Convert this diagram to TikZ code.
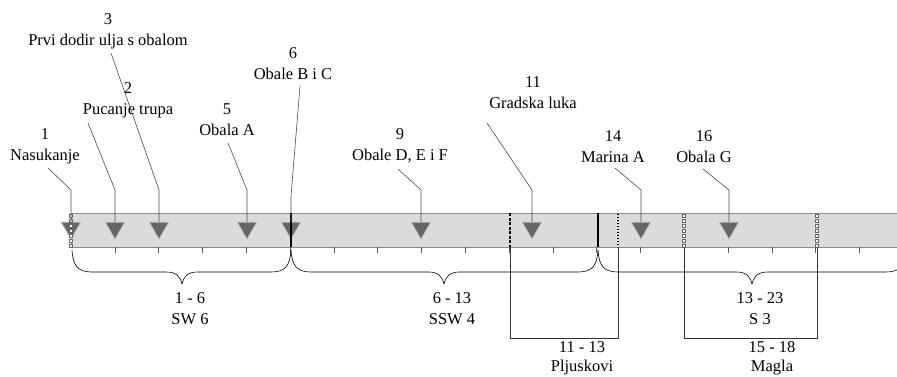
\documentclass[tikz,border=0pt]{standalone}
\usepackage{fontspec}
\setmainfont{Liberation Serif}
\usetikzlibrary{shapes.geometric}
\begin{document}
\begin{tikzpicture}[x=1pt,y=-1pt,
  lab/.style={align=center, inner sep=0pt, font=\fontsize{16.5}{21}\selectfont},
  lowlab/.style={align=center, inner sep=0pt, font=\fontsize{16.5}{19}\selectfont},
  lead/.style={draw=black!70, line width=0.6pt},
  evmark/.style={regular polygon, regular polygon sides=3, shape border rotate=180,
    minimum size=23pt, inner sep=0pt, outer sep=0pt, fill=black!60, draw=black!22, line width=0.9pt},
  tickline/.style={draw=black!65, line width=0.6pt},
  bracel/.style={draw=black, line width=0.6pt},
  boxl/.style={draw=black!80, line width=0.6pt},
  sqcell/.style={draw=black!60, line width=0.5pt, fill=white}]
\useasboundingbox (0,0) rectangle (897,377);
% bar
\fill[black!14] (71,213) rectangle (910,247);
\draw[black!45, line width=0.9pt] (910,213) -- (71,213) -- (71,247) -- (910,247);
% ticks
\foreach \k in {1,...,18} \draw[tickline] ({71+43.8*\k},247) -- ++(0,6);
% markers
\foreach \n/\x in {1/71,2/115,3/159,5/247,6/291,9/421,11/532,14/641,16/729}
  \node[evmark] (m\n) at (\x,227.8) {};
% vertical lines in bar
\draw[black, line width=2pt] (291,213) -- (291,247);
\draw[black, line width=2pt] (598,213) -- (598,247);
\draw[black, line width=1.8pt, dash pattern=on 3pt off 1.5pt] (510,213) -- (510,247);
\draw[black, line width=1.5pt, dash pattern=on 1pt off 2pt] (618,214) -- (618,247);
\foreach \xx in {71,684,817}
  \foreach \yy in {214,219,...,244} \draw[sqcell] ({\xx-1.5},\yy) rectangle ++(3,3.6);
% boxes below
\draw[boxl] (510,247) -- (510,338) -- (618,338) -- (618,247);
\draw[boxl] (684,247) -- (684,338) -- (817,338) -- (817,247);
% braces
\newcommand\mybrace[3]{%
  \draw[bracel] (#1,250) .. controls (#1+1,266) and (#1+6,272) .. (#1+20,272)
    -- (#2-16,272) .. controls (#2-6,272) and (#2-2,276) .. (#2,284)
    .. controls (#2+2,276) and (#2+6,272) .. (#2+16,272)
    -- (#3-20,272) .. controls (#3-6,272) and (#3-1,266) .. (#3,250);}
\mybrace{72}{182}{291}
\mybrace{291}{444}{598}
\mybrace{598}{752}{906}
% labels
\node[lab] (l1) at (45,146) {1\\Nasukanje};
\node[lab] (l2) at (128,100) {2\\Pucanje trupa};
\node[lab] (l3) at (108,31) {3\\Prvi dodir ulja s obalom};
\node[lab] (l5) at (227,120) {5\\Obala A};
\node[lab] (l6) at (293,64) {6\\Obale B i C};
\node[lab] (l9) at (400,146) {9\\Obale D, E i F};
\node[lab] (l11) at (533,93) {11\\Gradska luka};
\node[lab] (l14) at (613,147) {14\\Marina A};
\node[lab] (l16) at (704,147) {16\\Obala G};
% leader start and bend points
\coordinate (s1) at (48,168);  \coordinate (b1) at (71,190);
\coordinate (s2) at (88,123);  \coordinate (b2) at (115,190);
\coordinate (s3) at (111,53);  \coordinate (b3) at (159,190);
\coordinate (s5) at (228,143); \coordinate (b5) at (247,190);
\coordinate (s6) at (300,86);  \coordinate (b6) at (291,196);
\coordinate (s9) at (398,169); \coordinate (b9) at (421,190);
\coordinate (s11) at (487,123); \coordinate (b11) at (532,190);
\coordinate (s14) at (615,168); \coordinate (b14) at (641,190);
\coordinate (s16) at (703,169); \coordinate (b16) at (729,190);
\foreach \n in {1,2,3,5,6,9,11,14,16}
  \draw[lead] (s\n) -- (b\n) -- (m\n.north);
% lower labels
\node[lab] (w1) at (190,309) {1 - 6\\SW 6};
\node[lab] (w2) at (452,309) {6 - 13\\SSW 4};
\node[lab] (w3) at (760,309) {13 - 23\\S 3};
\node[lowlab] (p1) at (582,358) {11 - 13\\Pljuskovi};
\node[lowlab] (p2) at (772,358) {15 - 18\\Magla};
\end{tikzpicture}
\end{document}
